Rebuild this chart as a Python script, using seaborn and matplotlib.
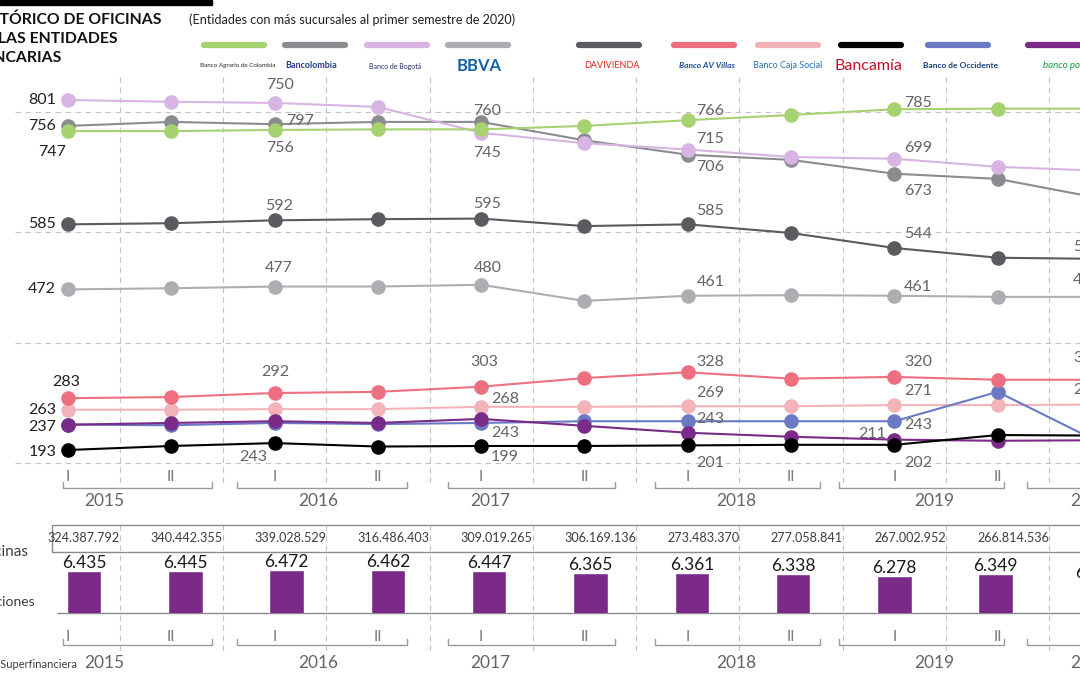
import matplotlib
matplotlib.use('Agg')
import matplotlib.pyplot as plt
import matplotlib.transforms as mtransforms
from matplotlib.patches import Rectangle
from matplotlib import font_manager
import pandas as pd
import seaborn as sns

# ---- data (read from the infographic) ----
periods = ['2015-I', '2015-II', '2016-I', '2016-II', '2017-I', '2017-II',
           '2018-I', '2018-II', '2019-I', '2019-II', '2020-I']
semester = ['I', 'II', 'I', 'II', 'I', 'II', 'I', 'II', 'I', 'II']
years = ['2015', '2016', '2017', '2018', '2019', '2020']

agrario = [747, 747, 749, 750, 750, 756, 766, 775, 785, 786, 786]
bancolombia = [756, 763, 759, 763, 763, 731, 706, 697, 673, 664, 630]
bogota = [801, 798, 796, 789, 744, 726, 715, 702, 699, 685, 678]
bbva = [472, 474, 477, 477, 480, 452, 461, 462, 461, 459, 459]
davivienda = [585, 587, 592, 594, 595, 582, 585, 570, 544, 527, 525]
av_villas = [283, 285, 292, 294, 303, 318, 328, 317, 320, 315, 315]
caja_social = [263, 263, 264, 264, 268, 268, 269, 269, 271, 271, 272]
bancamia = [193, 200, 205, 199, 200, 200, 201, 202, 202, 219, 218]
occidente = [237, 236, 240, 238, 240, 243, 243, 243, 243, 294, 205]
popular = [237, 240, 243, 240, 247, 235, 223, 216, 211, 209, 210]

oficinas = [6435, 6445, 6472, 6462, 6447, 6365, 6361, 6338, 6278, 6349, 6116]
transacciones = [324387792, 340442355, 339028529, 316486403, 309019265, 306169136,
                 273483370, 277058841, 267002952, 266814536, 181062000]

series = {
    'Bancolombia': bancolombia, 'Banco de Bogotá': bogota, 'Banco Agrario': agrario,
    'Davivienda': davivienda, 'BBVA': bbva, 'Banco Caja Social': caja_social,
    'Banco de Occidente': occidente, 'Banco AV Villas': av_villas,
    'Banco Popular': popular, 'Bancamía': bancamia,
}
colors = {
    'Banco Agrario': '#a6d26f', 'Bancolombia': '#8b8c90', 'Banco de Bogotá': '#d8b4e2',
    'BBVA': '#adaeb2', 'Davivienda': '#5a5b5e', 'Banco AV Villas': '#ee6f7f',
    'Banco Caja Social': '#f3b4b9', 'Bancamía': '#000000',
    'Banco de Occidente': '#6b79c5', 'Banco Popular': '#7a2a87',
}
legend_order = ['Banco Agrario', 'Bancolombia', 'Banco de Bogotá', 'BBVA', 'Davivienda',
                'Banco AV Villas', 'Banco Caja Social', 'Bancamía', 'Banco de Occidente',
                'Banco Popular']

# value labels as printed on the chart: (text, x position, y position)
start_labels = [('801', 801), ('756', 756), ('585', 585), ('472', 472),
                ('263', 263), ('237', 233), ('193', 190)]
point_labels = [
    ('747', -0.15, 711), ('283', -0.02, 311),
    ('750', 2.05, 827), ('797', 2.25, 765), ('756', 2.05, 718),
    ('760', 4.06, 782), ('745', 4.06, 709), ('592', 2.04, 617), ('595', 4.06, 620),
    ('477', 2.04, 509), ('480', 4.06, 509),
    ('766', 6.22, 782), ('715', 6.22, 733), ('706', 6.22, 685), ('585', 6.22, 608),
    ('461', 6.22, 485), ('785', 8.23, 796), ('699', 8.23, 718), ('673', 8.23, 643),
    ('544', 8.23, 568), ('461', 8.23, 476),
    ('292', 2.01, 329), ('303', 4.03, 346), ('268', 4.23, 282), ('243', 4.23, 223),
    ('199', 4.23, 181), ('243', 1.79, 181),
    ('328', 6.22, 346), ('269', 6.22, 292), ('243', 6.22, 247), ('201', 6.22, 170),
    ('320', 8.23, 346), ('271', 8.23, 296), ('243', 8.23, 237), ('211', 7.78, 221),
    ('202', 8.23, 170),
]
edge_labels = [('525', 546), ('459', 488), ('315', 353), ('272', 297)]
grid_values = [780, 572, 379, 170]
year_brackets = [(-0.05, 1.39), (1.64, 3.28), (3.68, 5.30), (5.68, 7.28), (7.46, 9.06), (9.28, 10.9)]
year_label_x = [0.35, 2.42, 4.09, 6.47, 8.39, 9.9]

# ---- style ----
sns.set_style('white')
plt.rcParams['font.family'] = ['Lato', 'DejaVu Sans']


def has_font(name):
    try:
        font_manager.findfont(name, fallback_to_default=False)
        return True
    except Exception:
        return False


narrow = 'Liberation Sans Narrow' if has_font('Liberation Sans Narrow') else 'Lato'
narrow_scale = 1.0 if narrow != 'Lato' else 0.87

W, H = 1080, 675
fig = plt.figure(figsize=(10.8, 6.75), dpi=100)
fig.patch.set_facecolor('white')

ax_bg = fig.add_axes([0, 0, 1, 1])
ax_bg.set_xlim(0, W)
ax_bg.set_ylim(H, 0)
ax_bg.axis('off')

ax_line = fig.add_axes([0, 1 - 485 / H, 1, (485 - 77) / H])
ax_bar = fig.add_axes([0, 1 - 613 / H, 1, 93 / H])
for a in (ax_line, ax_bar):
    a.patch.set_alpha(0)

# x in period units, y in pixels of the figure
trans = mtransforms.blended_transform_factory(ax_line.transData, ax_bg.transData)

# ---- line chart ----
df = pd.DataFrame([
    {'idx': i, 'bank': bank, 'value': v}
    for bank, vals in series.items() for i, v in enumerate(vals)
])
sns.lineplot(data=df, x='idx', y='value', hue='bank', hue_order=list(series.keys()),
             palette=colors, marker='o', markersize=10.5, markeredgewidth=0,
             linewidth=1.5, legend=False, ax=ax_line)
ax_line.set_xlim(-0.658, 9.797)
ax_line.set_ylim(132.2, 841)
ax_line.axis('off')

dash = (0, (5, 4))
ax_line.hlines(grid_values, -0.51, 10.5, colors='#c4c4c4', linestyles=dash, lw=0.8, zorder=0)
mid = [i + 0.5 for i in range(10)]
ax_bg.vlines(mid, 77, 485, transform=trans, colors='#c4c4c4', linestyles=dash, lw=0.8, zorder=0)
ax_bg.vlines(mid, 525, 652, transform=trans, colors='#c4c4c4', linestyles=dash, lw=0.8, zorder=0)

for txt, y in start_labels:
    ax_line.text(-0.115, y, txt, ha='right', va='center', fontsize=11.5, color='#231f20')
for txt, x, y in point_labels:
    col = '#231f20' if x < 0 else '#636466'
    ax_line.text(x, y, txt, ha='center', va='center', fontsize=11.5, color=col)
for txt, y in edge_labels:
    ax_line.text(9.73, y, txt, ha='left', va='center', fontsize=11.5, color='#636466')

# period axis (top and bottom)
for y_tick, y_br, y_year in [(477, 488, 501), (637, 645, 663)]:
    for i, s in enumerate(semester):
        ax_bg.text(i, y_tick, s, transform=trans, ha='center', va='center',
                   fontsize=11, color='#7a7b7e')
    for (x0, x1), yr, xl in zip(year_brackets, years, year_label_x):
        ax_bg.plot([x0, x0, x1, x1], [y_br - 6, y_br, y_br, y_br - 6], transform=trans,
                   color='#9a9a9a', lw=1, clip_on=False)
        ax_bg.text(xl, y_year, yr, transform=trans, ha='center', va='center',
                   fontsize=12.5, color='#636466')

# ---- bars ----
sns.barplot(x=periods, y=oficinas, color='#7b2a8a', saturation=1, width=0.34, ax=ax_bar)
ax_bar.set_xlim(-0.829, 9.832)
ax_bar.set_ylim(5081, 8091)
ax_bar.axis('off')
for i, v in enumerate(oficinas):
    ax_bar.annotate(f'{v / 1000:.3f}', (i, v), xytext=(0, 0), textcoords='offset points',
                    ha='center', va='bottom', fontsize=12.5, color='#1a1a1a',
                    annotation_clip=False)
ax_bg.hlines(613, 57, W, colors='#8a8a8a', lw=1)

ax_bg.add_patch(Rectangle((52, 525), 1100, 27, fill=False, ec='#8a8a8a', lw=1))
for i, v in enumerate(transacciones):
    ax_bg.text(i + 0.15, 538.5, f'{v:,}'.replace(',', '.'), transform=trans, ha='center',
               va='center', fontsize=10.5 * narrow_scale, color='#3d3d3d', family=narrow)

ax_bg.text(28, 552, 'Oficinas', ha='right', va='center', fontsize=11, color='#3d3d3d')
ax_bg.text(35, 602, 'Transacciones', ha='right', va='center', fontsize=10, color='#3d3d3d')
ax_bg.text(77, 665, 'Fuente: Superfinanciera', ha='right', va='center', fontsize=8, color='#3d3d3d')

# ---- header ----
ax_bg.add_patch(Rectangle((0, 0), 212, 4.5, color='black'))
title_kw = dict(ha='right', va='center', fontsize=11.3, weight='bold', color='#111')
ax_bg.text(161, 20, 'HISTÓRICO DE OFICINAS', **title_kw)
ax_bg.text(118, 39, 'DE LAS ENTIDADES', **title_kw)
ax_bg.text(62, 58, 'BANCARIAS', **title_kw)
ax_bg.text(352, 20, '(Entidades con más sucursales al primer semestre de 2020)', ha='center',
           va='center', fontsize=10.5 * narrow_scale, color='#231f20', family=narrow)

# legend swatches and bank names
legend_x = [234, 315, 397, 478, 609, 704, 788, 871, 958, 1058]
for bank, xc in zip(legend_order, legend_x):
    ax_bg.plot([xc - 30, xc + 30], [45, 45], color=colors[bank], lw=4.5, solid_capstyle='round')

logos = [
    ('Banco Agrario de Colombia', 238, '#2b2b2b', 4.5, 'normal', 'normal'),
    ('Bancolombia', 311, '#1f3f8f', 6.5, 'bold', 'normal'),
    ('Banco de Bogotá', 395, '#23306b', 5, 'normal', 'normal'),
    ('BBVA', 479, '#1464a5', 12, 'bold', 'normal'),
    ('DAVIVIENDA', 612, '#e2231a', 6.5, 'normal', 'normal'),
    ('Banco AV Villas', 707, '#1d4f91', 6, 'bold', 'italic'),
    ('Banco Caja Social', 788, '#2a6fb6', 6.5, 'normal', 'normal'),
    ('Bancamía', 868, '#c8102e', 11.5, 'normal', 'normal'),
    ('Banco de Occidente', 961, '#1d3d7a', 6, 'bold', 'normal'),
    ('banco popular', 1043, '#1a9c3e', 7, 'normal', 'italic'),
]
for txt, xc, col, fs, wt, st in logos:
    ha = 'left' if txt == 'banco popular' else 'center'
    ax_bg.text(xc, 66, txt, ha=ha, va='center', fontsize=fs, color=col, weight=wt, style=st)

fig.savefig('out.png', dpi=100, facecolor='white')
